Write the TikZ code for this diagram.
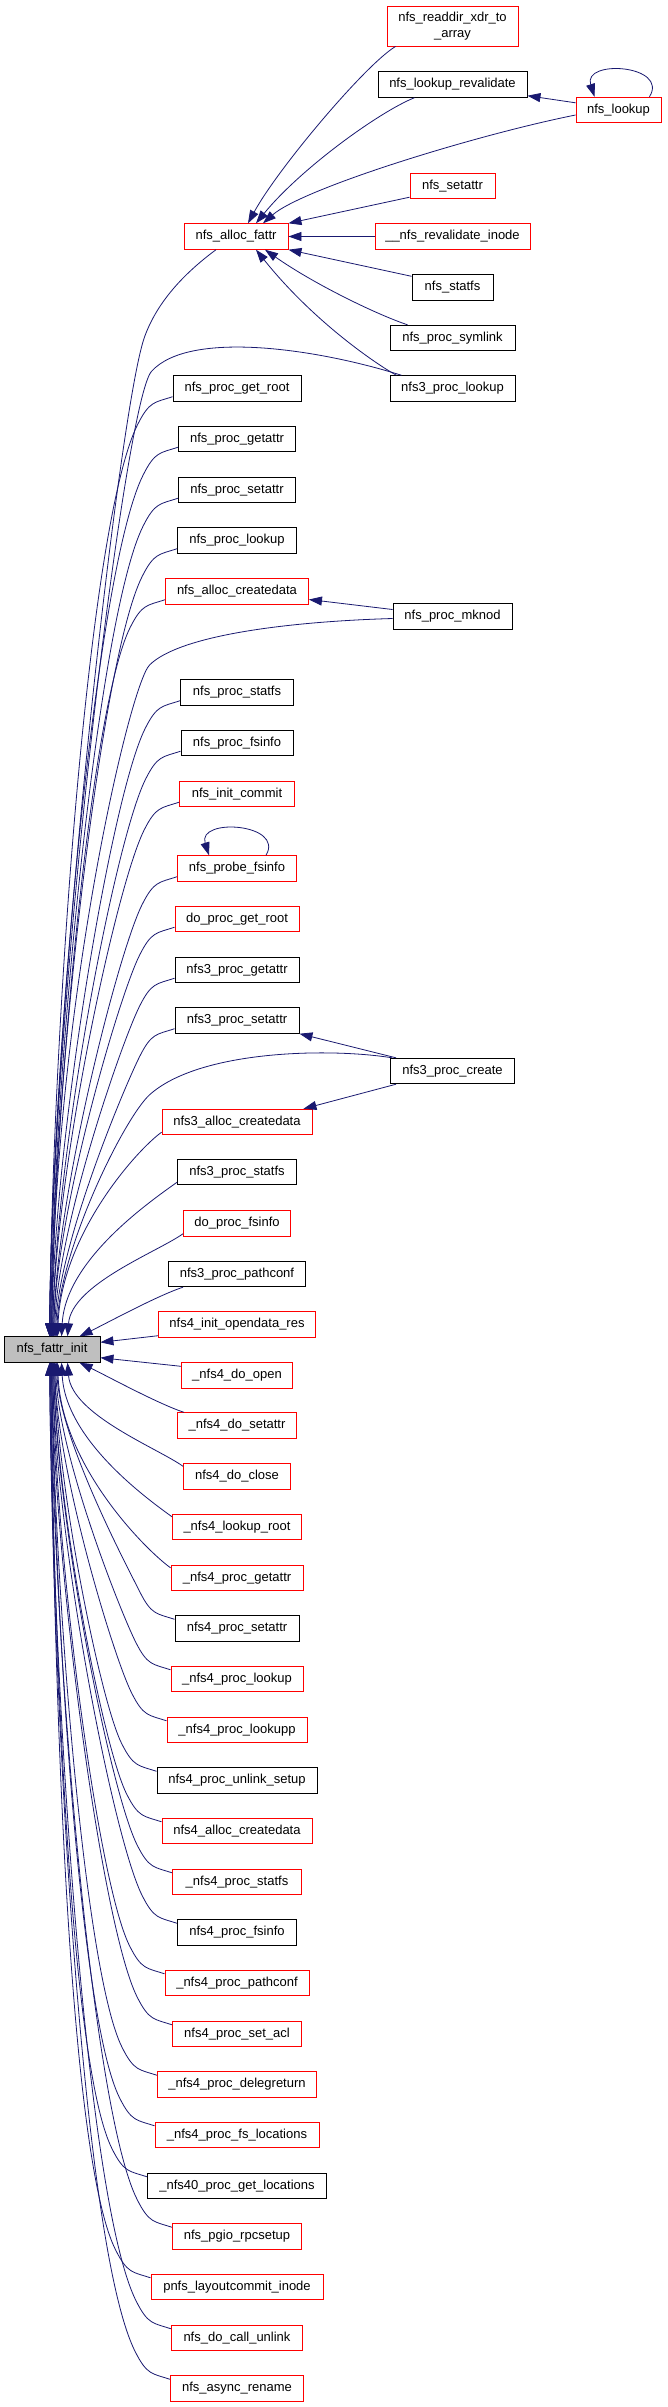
\documentclass[tikz,border=0pt]{standalone}
\usepackage{fontspec}
\setmainfont{Liberation Sans}
\usetikzlibrary{arrows.meta}
\definecolor{navyc}{HTML}{191970}
\definecolor{gfill}{HTML}{BFBFBF}
\definecolor{rborder}{HTML}{FF0000}
\tikzset{
  box/.style={draw, line width=0.9pt, fill=white, inner sep=0pt, minimum height=25.5pt, font=\fontsize{13}{16}\selectfont},
  rbox/.style={box, draw=rborder},
  kbox/.style={box, draw=black},
  edge/.style={draw=navyc, line width=0.8pt, -{Triangle[length=13pt,width=9pt]}},
}
\begin{document}
\begin{tikzpicture}[x=1pt,y=-1pt]
\fill[white] (0,0) rectangle (667,2407);
\useasboundingbox (0,0) rectangle (667,2407);
% root
\node[box, draw=black, fill=gfill, minimum width=96pt] (fattrinit) at (52,1349.5) {nfs\_fattr\_init};
% right column
\node[rbox, minimum width=131pt, minimum height=40pt, align=center] (readdir) at (452.5,26) {nfs\_readdir\_xdr\_to\\\_array};
\node[kbox, minimum width=149pt] (lookuprev) at (452.5,84.5) {nfs\_lookup\_revalidate};
\node[rbox, minimum width=85pt] (lookup) at (618.5,110) {nfs\_lookup};
\node[rbox, minimum width=85pt] (setattr) at (452.5,186) {nfs\_setattr};
\node[rbox, minimum width=155pt] (revinode) at (452.5,236.5) {\_\_nfs\_revalidate\_inode};
\node[kbox, minimum width=81pt] (statfs) at (452.5,287.5) {nfs\_statfs};
\node[kbox, minimum width=125pt] (symlink) at (452.5,338) {nfs\_proc\_symlink};
\node[kbox, minimum width=125pt] (lookup3) at (452.5,388.5) {nfs3\_proc\_lookup};
\node[kbox, minimum width=119pt] (mknod) at (452.5,616.5) {nfs\_proc\_mknod};
\node[kbox, minimum width=124pt] (create3) at (452.5,1071) {nfs3\_proc\_create};
% middle column
\node[rbox, minimum width=104pt] (allocfattr) at (236,236.5) {nfs\_alloc\_fattr};
\node[kbox, minimum width=128pt] (getroot) at (237,388.5) {nfs\_proc\_get\_root};
\node[kbox, minimum width=117pt] (getattr) at (237,439) {nfs\_proc\_getattr};
\node[kbox, minimum width=117pt] (psetattr) at (237,490) {nfs\_proc\_setattr};
\node[kbox, minimum width=119pt] (plookup) at (237,540.5) {nfs\_proc\_lookup};
\node[rbox, minimum width=143pt] (alloccd) at (237,591.5) {nfs\_alloc\_createdata};
\node[kbox, minimum width=113pt] (pstatfs) at (237,692.5) {nfs\_proc\_statfs};
\node[kbox, minimum width=112pt] (pfsinfo) at (237,743) {nfs\_proc\_fsinfo};
\node[rbox, minimum width=115pt] (initcommit) at (237,794) {nfs\_init\_commit};
\node[rbox, minimum width=119pt] (probe) at (237,868.5) {nfs\_probe\_fsinfo};
\node[rbox, minimum width=124pt] (dogetroot) at (237,919) {do\_proc\_get\_root};
\node[kbox, minimum width=124pt] (getattr3) at (237,970) {nfs3\_proc\_getattr};
\node[kbox, minimum width=124pt] (setattr3) at (237,1020.5) {nfs3\_proc\_setattr};
\node[rbox, minimum width=150pt] (alloccd3) at (237,1122) {nfs3\_alloc\_createdata};
\node[kbox, minimum width=119pt] (statfs3) at (237,1172) {nfs3\_proc\_statfs};
\node[rbox, minimum width=107pt] (dofsinfo) at (237,1223.5) {do\_proc\_fsinfo};
\node[kbox, minimum width=137pt] (pathconf3) at (237,1274) {nfs3\_proc\_pathconf};
\node[rbox, minimum width=157pt] (opendata) at (237,1324.5) {nfs4\_init\_opendata\_res};
\node[rbox, minimum width=111pt] (doopen) at (237,1375.5) {\_nfs4\_do\_open};
\node[rbox, minimum width=119pt] (dosetattr) at (237,1425.5) {\_nfs4\_do\_setattr};
\node[rbox, minimum width=107pt] (doclose) at (237,1476.5) {nfs4\_do\_close};
\node[rbox, minimum width=129pt] (lookuproot) at (237,1527) {\_nfs4\_lookup\_root};
\node[rbox, minimum width=132pt] (getattr4) at (237,1578) {\_nfs4\_proc\_getattr};
\node[kbox, minimum width=124pt] (setattr4) at (237,1628.5) {nfs4\_proc\_setattr};
\node[rbox, minimum width=132pt] (lookup4) at (237,1679) {\_nfs4\_proc\_lookup};
\node[rbox, minimum width=140pt] (lookupp4) at (237,1730) {\_nfs4\_proc\_lookupp};
\node[kbox, minimum width=160pt] (unlink4) at (237,1780.5) {nfs4\_proc\_unlink\_setup};
\node[rbox, minimum width=150pt] (alloccd4) at (237,1831) {nfs4\_alloc\_createdata};
\node[rbox, minimum width=129pt] (statfs4) at (237,1882) {\_nfs4\_proc\_statfs};
\node[kbox, minimum width=119pt] (fsinfo4) at (237,1932.5) {nfs4\_proc\_fsinfo};
\node[rbox, minimum width=144pt] (pathconf4) at (237,1983) {\_nfs4\_proc\_pathconf};
\node[rbox, minimum width=129pt] (setacl4) at (237,2034) {nfs4\_proc\_set\_acl};
\node[rbox, minimum width=159pt] (deleg4) at (237,2084.5) {\_nfs4\_proc\_delegreturn};
\node[rbox, minimum width=164pt] (fsloc4) at (237,2135) {\_nfs4\_proc\_fs\_locations};
\node[kbox, minimum width=179pt] (getloc40) at (237,2186) {\_nfs40\_proc\_get\_locations};
\node[rbox, minimum width=129pt] (pgio) at (237,2236.5) {nfs\_pgio\_rpcsetup};
\node[rbox, minimum width=172pt] (layoutcommit) at (237,2287) {pnfs\_layoutcommit\_inode};
\node[rbox, minimum width=131pt] (callunlink) at (237,2338) {nfs\_do\_call\_unlink};
\node[rbox, minimum width=133pt] (asyncrename) at (237,2388.5) {nfs\_async\_rename};

% edges into nfs_alloc_fattr
\draw[edge] ([xshift=9pt]readdir.south west) .. controls +(-30,18) and +(30,-55) .. ([xshift=12pt]allocfattr.north);
\draw[edge] ([xshift=-38pt]lookuprev.south) .. controls +(-35,14) and +(45,-55) .. ([xshift=20pt]allocfattr.north);
\draw[edge] ([yshift=-5pt]lookup.west) .. controls +(-100,20) and +(40,-35) .. ([xshift=27pt]allocfattr.north);
\draw[edge] ([yshift=2pt]setattr.south west) -- (allocfattr.north east);
\draw[edge] (revinode.west) -- (allocfattr.east);
\draw[edge] ([yshift=-2pt]statfs.north west) -- (allocfattr.south east);
\draw[edge] ([xshift=18pt]symlink.north west) .. controls +(-30,-10) and +(50,35) .. ([xshift=29pt]allocfattr.south);
\draw[edge] ([xshift=7pt]lookup3.north west) .. controls +(-15,-8) and +(60,75) .. ([xshift=20pt]allocfattr.south);
% nfs_lookup edges
\draw[edge] ([yshift=-6pt]lookup.north west) -- ([yshift=2pt]lookuprev.south east);
\draw[edge] ([xshift=-12pt]lookup.north east) .. controls +(20,-32) and +(-12,-38) .. ([xshift=-24pt]lookup.north);
% self loop probe
\draw[edge] ([xshift=29pt]probe.north) .. controls +(19,-32) and +(-12,-38) .. ([xshift=-28pt]probe.north);
% mknod / create3
\draw[edge] ([yshift=7pt]mknod.west) -- ([yshift=-8pt]alloccd.east);
\draw[edge] ([xshift=6pt]create3.north west) -- (setattr3.south east);
\draw[edge] ([xshift=6pt]create3.south west) -- ([xshift=-9pt]alloccd3.north east);

% long edges into nfs_fattr_init
\draw[edge] ([xshift=-20pt]allocfattr.south) .. controls +(-31,23) and +(13,-35) .. ++(-71,86)
  .. controls +(-25,65) and +(3,-337) .. ([xshift=46pt]fattrinit.north west);
\draw[edge] ([xshift=12pt]lookup3.north west) .. controls +(-82,-26) and +(38,-42) .. ++(-250,-4)
  .. controls +(-27,30) and +(3,-337) .. ([xshift=46pt]fattrinit.north west);
\draw[edge] ([yshift=-2pt]mknod.west) .. controls +(-103,3) and +(30,-30) .. ++(-243,46.5)
  .. controls +(-20,20) and +(3,-330) .. ([xshift=48pt]fattrinit.north west);
\draw[edge] ([xshift=2pt]create3.north west) .. controls +(-62,-10) and +(50,-45) .. ++(-242.5,37)
  .. controls +(-25,23) and +(4,-90) .. ([xshift=53pt]fattrinit.north west);

% far callers above
\foreach \n/\x/\d in {getroot/46/913, getattr/46/862, psetattr/47/811, plookup/47/761, alloccd/48/710, pstatfs/48/609, pfsinfo/49/558, initcommit/49/507, probe/50/433, dogetroot/50/382, getattr3/51/331, setattr3/52/281}
{
  \pgfmathsetmacro\ca{-0.055*\d}
  \pgfmathsetmacro\cb{0.11*\d}
  \pgfmathsetmacro\ck{-0.33*\d}
  \draw[edge] ([yshift=5pt]\n.south west) .. controls +(-18,6) and +(12,-24) .. ++(-35,28)
    .. controls +(\ca,\cb) and +(3,\ck) .. ([xshift=\x pt]fattrinit.north west);
}
% near callers above
\foreach \n/\x/\k in {alloccd3/54/102, statfs3/58/77, dofsinfo/64/52}
  \draw[edge] ([yshift=3pt]\n.south west) .. controls +(-25,18) and +(4,-\k) .. ([xshift=\x pt]fattrinit.north west);

% near callers below
\foreach \n/\x/\k in {doclose/64/52, lookuproot/58/77, getattr4/54/103}
  \draw[edge] ([yshift=-3pt]\n.north west) .. controls +(-25,-18) and +(4,\k) .. ([xshift=\x pt]fattrinit.south west);
% far callers below
\foreach \n/\x/\d in {setattr4/53/231, lookup4/52/281, lookupp4/51/332, unlink4/51/383, alloccd4/50/433, statfs4/50/484, fsinfo4/49/535, pathconf4/49/585, setacl4/48/636, deleg4/48/687, fsloc4/48/737, getloc40/47/788, pgio/47/839, layoutcommit/47/889, callunlink/46/940, asyncrename/46/991}
{
  \pgfmathsetmacro\ca{-0.055*\d}
  \pgfmathsetmacro\cb{-0.11*\d}
  \pgfmathsetmacro\ck{0.33*\d}
  \draw[edge] ([yshift=-4pt]\n.north west) .. controls +(-18,-6) and +(12,24) .. ++(-35,-28)
    .. controls +(\ca,\cb) and +(3,\ck) .. ([xshift=\x pt]fattrinit.south west);
}

\draw[edge] ([xshift=15pt]pathconf3.south west) .. controls +(-25,8) and +(25,-12) .. ([xshift=76pt]fattrinit.north west);
\draw[edge] ([xshift=7pt]dosetattr.north west) .. controls +(-25,-8) and +(25,12) .. ([xshift=76pt]fattrinit.south west);
\draw[edge] ([yshift=2pt]opendata.south west) -- ([yshift=-6pt]fattrinit.north east);
\draw[edge] ([yshift=-4pt]doopen.north west) -- ([yshift=5pt]fattrinit.south east);
\end{tikzpicture}
\end{document}
